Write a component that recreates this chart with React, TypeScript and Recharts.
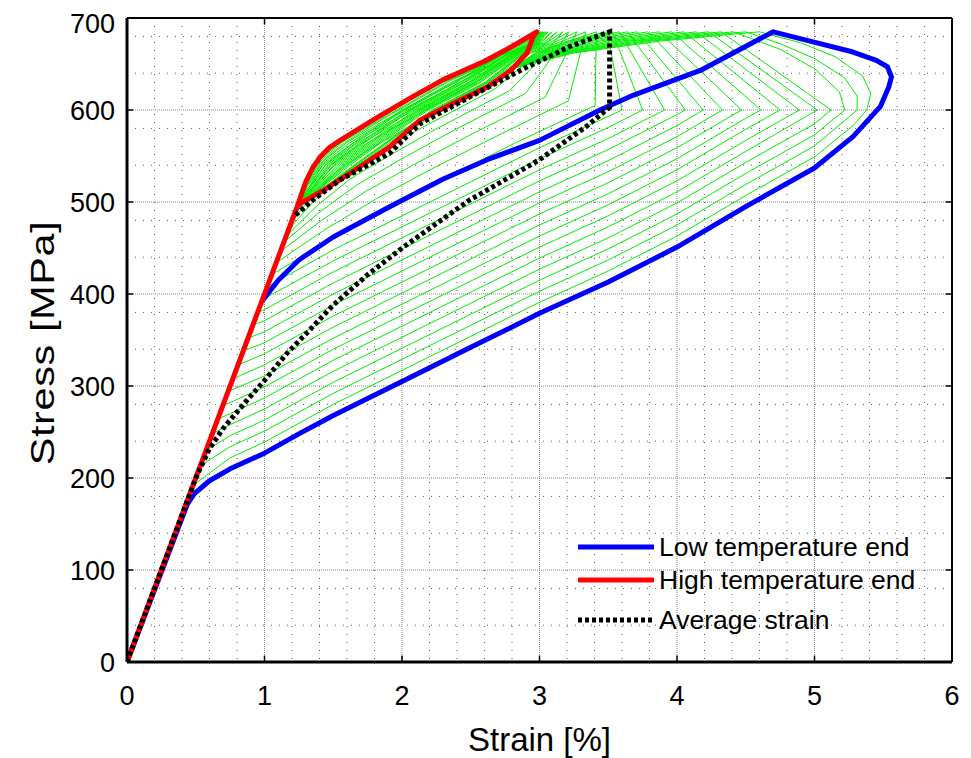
import React from 'react';
import { LineChart, Line, XAxis, YAxis, CartesianGrid, ReferenceLine } from 'recharts';

type Pt = [number, number];

const FONT = '"Liberation Sans", Arial, Helvetica, sans-serif';

const STRAIN_TICKS = [0, 1, 2, 3, 4, 5, 6];
const STRESS_TICKS = [0, 100, 200, 300, 400, 500, 600, 700];
const STRAIN_MAJOR_GRID = [1, 2, 3, 4, 5];
const STRESS_MAJOR_GRID = [100, 200, 300, 400, 500, 600];
const STRAIN_MINOR_GRID = [0.2, 0.4, 0.6, 0.8, 1.2, 1.4, 1.6, 1.8, 2.2, 2.4, 2.6, 2.8, 3.2, 3.4, 3.6, 3.8, 4.2, 4.4, 4.6, 4.8, 5.2, 5.4, 5.6, 5.8];
const STRESS_MINOR_GRID = [20, 40, 60, 80, 120, 140, 160, 180, 220, 240, 260, 280, 320, 340, 360, 380, 420, 440, 460, 480, 520, 540, 560, 580, 620, 640, 660, 680];

// Low temperature end (blue)
const LOW_END: Pt[] = [
  [0, 0], [0.44, 172], [0.49, 183], [0.6, 197], [0.75, 210], [1.0, 227], [1.25, 248], [1.5, 268],
  [2.0, 305], [2.5, 342], [3.0, 379], [3.5, 413], [4.0, 451], [4.5, 495], [5.0, 537], [5.28, 571],
  [5.48, 604], [5.54, 625], [5.56, 636], [5.53, 647], [5.45, 654], [5.28, 663], [4.99, 674], [4.70, 685],
  [4.17, 643], [3.68, 616], [3.44, 600], [3.0, 567], [2.62, 546], [2.3, 525], [1.9, 494], [1.5, 462],
  [1.25, 437], [1.1, 415], [0.98, 392],
];

// High temperature end (red)
const HIGH_END: Pt[] = [
  [0, 0], [1.24, 496], [1.3, 522], [1.35, 537], [1.4, 548], [1.47, 559], [1.55, 567], [1.8, 590],
  [2.05, 612], [2.3, 633], [2.6, 653], [2.8, 669], [2.98, 685], [2.955, 680], [2.91, 662], [2.79, 643],
  [2.62, 625], [2.37, 607], [2.13, 589], [1.91, 560], [1.62, 531], [1.43, 513], [1.28, 500], [1.24, 496],
];

// Average strain (black dotted)
const AVERAGE: Pt[] = [
  [0, 0], [0.5, 200], [0.6, 232], [0.7, 254], [0.87, 284], [1.0, 306], [1.16, 335], [1.31, 358],
  [1.5, 388], [1.75, 421], [2.01, 451], [2.49, 502], [2.62, 513], [3.0, 546], [3.34, 582], [3.51, 603],
  [3.51, 685], [3.22, 669], [2.86, 643], [2.49, 614], [2.13, 585], [1.91, 553], [1.55, 524], [1.35, 502],
  [1.22, 485],
];

// Intermediate positions, low-temperature side (chevron at ~600 MPa)
const GREEN_LOW_SIDE: Pt[][] = [
  [[0.48, 192], [0.75, 222], [1, 239], [1.5, 280], [2, 317], [2.5, 354], [3, 391], [3.5, 425], [4, 463], [4.5, 507], [5, 549], [5.28, 583], [5.38, 600], [5.41, 618], [5.35, 637], [5.15, 658], [4.9, 673], [4.6, 685], [3.88, 675], [3.25, 662], [2.8, 645]],
  [[0.53, 213], [0.75, 234], [1, 251], [1.5, 292], [2, 329], [2.5, 366], [3, 403], [3.5, 437], [4, 475], [4.5, 519], [5, 561], [5.31, 600], [5.31, 615], [5.22, 635], [5.0, 656], [4.75, 672], [4.5, 685], [3.82, 675], [3.225, 662], [2.8, 645]],
  [[0.575, 230], [0.75, 246], [1, 263], [1.5, 304], [2, 341], [2.5, 378], [3, 415], [3.5, 449], [4, 487], [4.5, 531], [5, 573], [5.22, 600], [5.18, 620], [5.0, 645], [4.75, 666], [4.41, 685], [3.766, 675], [3.2, 662], [2.8, 645]],
  [[0.62, 248], [0.75, 258], [1, 275], [1.5, 316], [2, 353], [2.5, 390], [3, 427], [3.5, 461], [4, 499], [4.5, 543], [5, 585], [5.12, 600], [4.32, 685], [3.71, 675], [3.18, 662], [2.8, 645]],
  [[0.66, 264], [0.75, 270], [1, 287], [1.5, 328], [2, 365], [2.5, 402], [3, 439], [3.5, 473], [4, 511], [4.5, 555], [5.02, 600], [4.23, 685], [3.66, 675], [3.157, 662], [2.8, 645]],
  [[0.70, 279], [0.75, 282], [1, 299], [1.5, 340], [2, 377], [2.5, 414], [3, 451], [3.5, 485], [4, 523], [4.5, 567], [4.89, 600], [4.14, 685], [3.604, 675], [3.135, 662], [2.8, 645]],
  [[0.735, 294], [1, 311], [1.5, 352], [2, 389], [2.5, 426], [3, 463], [3.5, 497], [4, 535], [4.5, 579], [4.75, 600], [4.05, 685], [3.55, 675], [3.11, 662], [2.8, 645]],
  [[0.77, 308], [1, 323], [1.5, 364], [2, 401], [2.5, 438], [3, 475], [3.5, 509], [4, 547], [4.5, 591], [4.61, 600], [3.96, 685], [3.496, 675], [3.09, 662], [2.8, 645]],
  [[0.81, 323], [1, 335], [1.5, 376], [2, 413], [2.5, 450], [3, 487], [3.5, 521], [4, 559], [4.47, 600], [3.87, 685], [3.442, 675], [3.07, 662], [2.8, 645]],
  [[0.845, 338], [1, 347], [1.5, 388], [2, 425], [2.5, 462], [3, 499], [3.5, 533], [4, 571], [4.33, 600], [3.79, 685], [3.394, 675], [3.05, 662], [2.8, 645]],
  [[0.88, 352], [1, 359], [1.5, 400], [2, 437], [2.5, 474], [3, 511], [3.5, 545], [4, 583], [4.19, 600], [3.71, 685], [3.346, 675], [3.03, 662], [2.8, 645]],
  [[0.915, 366], [1, 371], [1.5, 412], [2, 449], [2.5, 486], [3, 523], [3.5, 557], [4, 595], [4.06, 600], [3.64, 685], [3.304, 675], [3.01, 662], [2.8, 645]],
  [[0.95, 380], [1, 383], [1.5, 424], [2, 461], [2.5, 498], [3, 535], [3.5, 569], [3.91, 600], [3.58, 685], [3.268, 675], [2.995, 662], [2.8, 645]],
  [[0.985, 394], [1.5, 436], [2, 473], [2.5, 510], [3, 547], [3.5, 581], [3.75, 600], [3.53, 685], [3.238, 675], [2.98, 662], [2.8, 645]],
  [[1.02, 408], [1.5, 448], [2, 485], [2.5, 522], [3, 559], [3.5, 593], [3.6, 600], [3.55, 640], [3.49, 685], [3.214, 675], [2.97, 662], [2.8, 645]],
];

// Intermediate positions, high-temperature side
const GREEN_HIGH_SIDE: Pt[][] = [
  [[1.053, 421], [1.47, 459], [1.91, 494], [2.358, 529], [2.82, 564], [3.405, 605], [3.408, 642], [3.414, 685], [3.172, 673], [2.895, 660], [2.663, 630], [2.28, 600], [1.99, 570], [1.71, 540], [1.40, 510], [1.24, 496]],
  [[1.086, 434], [1.44, 470], [1.82, 504], [2.215, 536], [2.64, 568], [3.21, 610], [3.265, 643], [3.337, 685], [3.134, 673], [2.877, 660], [2.633, 630], [2.25, 600], [1.96, 570], [1.68, 540], [1.39, 510], [1.24, 496]],
  [[1.115, 446], [1.414, 480], [1.742, 512], [2.092, 541], [2.484, 572], [3.041, 614], [3.142, 645], [3.271, 685], [3.10, 673], [2.859, 660], [2.603, 630], [2.22, 600], [1.93, 570], [1.65, 540], [1.379, 510], [1.24, 496]],
  [[1.139, 456], [1.392, 488], [1.676, 519], [1.987, 546], [2.352, 576], [2.898, 618], [3.037, 646], [3.215, 685], [3.073, 673], [2.841, 660], [2.573, 630], [2.19, 600], [1.90, 570], [1.62, 540], [1.369, 510], [1.24, 496]],
  [[1.159, 463], [1.374, 495], [1.622, 525], [1.902, 550], [2.244, 579], [2.781, 621], [2.952, 647], [3.169, 685], [3.05, 673], [2.823, 660], [2.543, 630], [2.16, 600], [1.87, 570], [1.59, 540], [1.358, 510], [1.24, 496]],
  [[1.176, 470], [1.358, 501], [1.574, 530], [1.826, 554], [2.148, 581], [2.677, 623], [2.876, 648], [3.128, 685], [3.029, 673], [2.805, 660], [2.513, 630], [2.13, 600], [1.84, 570], [1.56, 540], [1.348, 510], [1.24, 496]],
  [[1.192, 477], [1.344, 506], [1.532, 534], [1.759, 557], [2.064, 583], [2.586, 626], [2.809, 649], [3.092, 685], [3.011, 673], [2.787, 660], [2.483, 630], [2.10, 600], [1.81, 570], [1.53, 540], [1.337, 510], [1.24, 496]],
  [[1.205, 482], [1.332, 510], [1.496, 538], [1.702, 560], [1.992, 585], [2.508, 628], [2.752, 649], [3.062, 685], [2.996, 673], [2.769, 660], [2.453, 630], [2.07, 600], [1.78, 570], [1.50, 540], [1.327, 510], [1.24, 496]],
  [[1.216, 486], [1.322, 514], [1.466, 541], [1.655, 562], [1.932, 587], [2.443, 629], [2.705, 650], [3.036, 685], [2.983, 673], [2.751, 660], [2.423, 630], [2.04, 600], [1.75, 570], [1.47, 540], [1.316, 510], [1.24, 496]],
  [[1.225, 490], [1.314, 517], [1.442, 544], [1.617, 564], [1.884, 588], [2.391, 631], [2.667, 650], [3.016, 685], [2.973, 673], [2.733, 660], [2.393, 630], [2.01, 600], [1.72, 570], [1.44, 540], [1.306, 510], [1.24, 496]],
  [[1.231, 492], [1.308, 519], [1.424, 545], [1.588, 565], [1.848, 589], [2.352, 632], [2.638, 651], [3.0, 685], [2.965, 673], [2.865, 660], [2.613, 630], [2.23, 600], [1.94, 570], [1.66, 540], [1.383, 510], [1.24, 496]],
  [[1.237, 495], [1.303, 521], [1.409, 547], [1.564, 566], [1.818, 590], [2.32, 633], [2.614, 651], [2.988, 685], [2.959, 673], [2.814, 660], [2.528, 630], [2.145, 600], [1.855, 570], [1.575, 540], [1.353, 510], [1.24, 496]],
  [[1.210, 484], [1.327, 512], [1.481, 540], [1.678, 561], [1.962, 586], [2.476, 629], [2.728, 650], [3.049, 685], [2.99, 673], [2.868, 660], [2.618, 630], [2.235, 600], [1.945, 570], [1.665, 540], [1.384, 510], [1.24, 496]],
  [[1.220, 488], [1.318, 515], [1.454, 542], [1.636, 563], [1.908, 587], [2.417, 630], [2.686, 650], [3.026, 685], [2.978, 673], [2.832, 660], [2.558, 630], [2.175, 600], [1.885, 570], [1.605, 540], [1.363, 510], [1.24, 496]],
  [[1.228, 491], [1.311, 518], [1.433, 545], [1.602, 565], [1.866, 588], [2.372, 631], [2.652, 650], [3.008, 685], [2.969, 673], [2.796, 660], [2.498, 630], [2.115, 600], [1.825, 570], [1.545, 540], [1.342, 510], [1.24, 496]],
  [[1.234, 494], [1.306, 520], [1.417, 546], [1.577, 566], [1.834, 589], [2.336, 632], [2.627, 651], [2.994, 685], [2.962, 673], [2.76, 660], [2.438, 630], [2.055, 600], [1.765, 570], [1.485, 540], [1.321, 510], [1.24, 496]],
  [[1.238, 495], [1.301, 521], [1.404, 548], [1.557, 567], [1.808, 590], [2.309, 633], [2.607, 651], [2.984, 685], [2.957, 673], [2.724, 660], [2.378, 630], [2.0, 600], [1.70, 570], [1.42, 540], [1.30, 510], [1.24, 496]],
];

const LEGEND_ITEMS = [
  { label: 'Low temperature end', color: '#0000ff', dash: '' },
  { label: 'High temperature end', color: '#ff0000', dash: '' },
  { label: 'Average strain', color: '#000000', dash: '4 3' },
];

const toRows = (pts: Pt[]) => pts.map(([x, y]) => ({ x, y }));

const LegendBox = () => (
  <div style={{ position: 'absolute', left: 569, top: 522, width: 395, height: 110, fontFamily: FONT, pointerEvents: 'none' }}>
    {LEGEND_ITEMS.map((it, i) => (
      <div
        key={it.label}
        style={{ position: 'absolute', left: 0, top: [0, 33, 73][i], height: 34, display: 'flex', alignItems: 'center' }}
      >
        <svg width={78} height={10} style={{ display: 'block' }}>
          <line x1={1} y1={5} x2={77} y2={5} stroke={it.color} strokeWidth={5} strokeDasharray={it.dash || undefined} />
        </svg>
        <span style={{ marginLeft: 4, fontSize: 26.5, color: '#000', whiteSpace: 'nowrap' }}>{it.label}</span>
      </div>
    ))}
  </div>
);

const YLabel = () => {
  const cx = 34;
  const cy = 335;
  return (
    <g transform={`translate(${cx} ${cy}) rotate(-90) scale(1.22 1)`}>
      <text
        x={0}
        y={0}
        textAnchor="middle"
        dominantBaseline="central"
        fontSize={34}
        letterSpacing={0.5}
        fontFamily={FONT}
        fill="#000"
      >
        Stress [MPa]
      </text>
    </g>
  );
};

const greenLine = (c: Pt[], key: string) => (
  <Line key={key} data={toRows(c)} dataKey="y" type="linear" stroke="#00ee00" strokeWidth={1}
    dot={false} activeDot={false} isAnimationActive={false} legendType="none" />
);

const tickMark = (seg: { x: number; y: number }[], key: string) => (
  <ReferenceLine key={key} segment={seg} stroke="#000" strokeWidth={1.5} ifOverflow="visible" />
);

export default function App() {
  return (
    <div style={{ position: 'relative', width: 963, height: 750, background: '#fff' }}>
      <LineChart width={963} height={750} margin={{ top: 10, right: 19, bottom: 0, left: 0 }}>
        <CartesianGrid
          horizontalValues={STRESS_MINOR_GRID}
          verticalValues={STRAIN_MINOR_GRID}
          stroke="#555"
          strokeDasharray="1 7"
        />
        <CartesianGrid
          horizontalValues={STRESS_MAJOR_GRID}
          verticalValues={STRAIN_MAJOR_GRID}
          stroke="#888"
          strokeDasharray="1 1"
        />
        <XAxis
          type="number"
          dataKey="x"
          domain={[0, 6]}
          ticks={STRAIN_TICKS}
          allowDataOverflow
          height={96}
          tickLine={false}
          tickSize={0}
          tickMargin={24}
          axisLine={{ stroke: '#000', strokeWidth: 3 }}
          tick={{ fontSize: 27, fill: '#000', fontFamily: FONT }}
          label={{ value: 'Strain [%]', position: 'insideBottom', offset: 7, fontSize: 33, fill: '#000', fontFamily: FONT }}
        />
        <YAxis
          type="number"
          dataKey="y"
          domain={[0, 700]}
          ticks={STRESS_TICKS}
          allowDataOverflow
          width={119}
          tickLine={false}
          tickSize={0}
          tickMargin={12}
          axisLine={{ stroke: '#000', strokeWidth: 3 }}
          tick={{ fontSize: 27, fill: '#000', fontFamily: FONT }}
          label={<YLabel />}
        />
        {GREEN_LOW_SIDE.map((c, i) => greenLine(c, `gl${i}`))}
        {GREEN_HIGH_SIDE.map((c, i) => greenLine(c, `gh${i}`))}
        <Line data={toRows(LOW_END)} dataKey="y" type="linear" stroke="#0000ff" strokeWidth={5}
          strokeLinejoin="round" dot={false} activeDot={false} isAnimationActive={false} />
        <Line data={toRows(HIGH_END)} dataKey="y" type="linear" stroke="#ff0000" strokeWidth={5}
          strokeLinejoin="round" dot={false} activeDot={false} isAnimationActive={false} />
        <Line data={toRows(AVERAGE)} dataKey="y" type="linear" stroke="#000" strokeWidth={5}
          strokeDasharray="4 3" dot={false} activeDot={false} isAnimationActive={false} />
        <ReferenceLine y={700} stroke="#000" strokeWidth={2} />
        <ReferenceLine x={6} stroke="#000" strokeWidth={2} />
        {STRAIN_MAJOR_GRID.map((v) => tickMark([{ x: v, y: 0 }, { x: v, y: 7 }], `tb${v}`))}
        {STRAIN_MAJOR_GRID.map((v) => tickMark([{ x: v, y: 700 }, { x: v, y: 693 }], `tt${v}`))}
        {STRESS_MAJOR_GRID.map((v) => tickMark([{ x: 0, y: v }, { x: 0.045, y: v }], `tl${v}`))}
        {STRESS_MAJOR_GRID.map((v) => tickMark([{ x: 6, y: v }, { x: 5.955, y: v }], `tr${v}`))}
      </LineChart>
      <LegendBox />
    </div>
  );
}
